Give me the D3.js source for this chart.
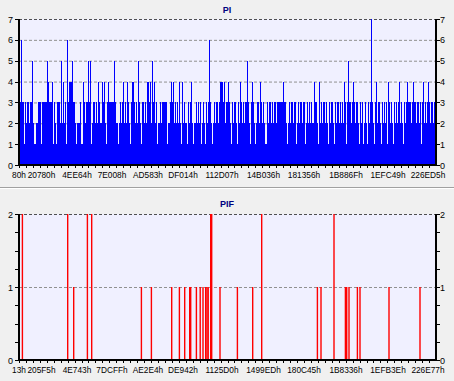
<!DOCTYPE html>
<html><head><meta charset="utf-8">
<script src="https://cdn.jsdelivr.net/npm/d3@7"></script>
<style>
html,body{margin:0;padding:0;background:#f0f0f0;}
svg{display:block;font-family:"Liberation Sans",Arial,sans-serif;}
</style></head>
<body><svg id="c" width="454" height="381"></svg>
<script>
// ---- data ----
const piValues = [
2,3,6,3,3,1,3,2,3,3, 2,3,3,5,2,1,1,2,2,3, 3,3,1,3,3,3,3,3,5,4, 3,3,3,4,1,3,2,1,3,3,
3,2,5,2,4,2,3,1,6,3, 4,4,4,5,3,3,2,1,2,2, 2,3,1,1,4,3,2,3,3,5, 3,5,1,2,3,3,2,3,2,4,
3,2,2,4,3,4,2,1,3,4, 3,3,3,3,3,5,3,2,2,1, 2,3,2,3,4,2,3,2,4,3, 2,1,3,4,4,3,2,3,2,5,
3,2,1,3,3,2,3,2,4,4, 3,4,2,5,3,4,2,3,1,2, 2,3,2,3,3,3,3,3,1,2, 2,3,4,3,4,2,3,2,3,2,
4,2,1,4,2,3,2,2,1,3, 2,3,4,2,1,2,2,3,2,3, 2,3,1,2,3,2,1,3,2,3, 6,3,2,1,2,3,2,3,3,2,
3,4,4,4,3,4,2,3,3,4, 3,2,1,3,2,3,3,2,1,3, 2,4,3,2,3,2,3,3,5,3, 2,1,3,4,3,2,1,2,3,3,
2,4,3,2,3,2,1,1,3,2, 3,3,2,3,2,3,3,2,3,3, 3,3,3,3,4,3,3,2,1,2, 3,2,3,3,2,3,3,1,2,3,
2,3,3,2,3,3,1,2,3,2, 3,2,3,2,2,4,3,3,2,1, 4,2,3,2,3,3,2,3,2,1, 3,2,3,3,2,1,3,2,3,3,
2,3,2,3,2,4,3,1,3,5, 3,3,2,3,4,3,2,3,3,2, 1,3,2,3,1,2,3,2,1,3, 2,3,7,3,2,1,3,4,2,3,
3,2,1,3,2,3,2,3,1,4, 3,2,3,2,1,3,2,3,2,3, 4,2,3,2,1,3,2,3,4,3, 3,3,2,3,4,3,3,2,3,3,
2,3,1,3,4,2,3,2,3,4, 3,2,3,3,2,3,2
];
const piTickLabels = ["80h","20780h","4EE64h","7E008h","AD583h","DF014h","112D07h","14B036h","181356h","1B886Fh","1EFC49h","226ED5h"];
const pifTickLabels = ["13h","205F5h","4E743h","7DCFFh","AE2E4h","DE942h","1125D0h","1499EDh","180C45h","1B8336h","1EFB3Eh","226E77h"];
const tickSample = [0,22.5,58,93,129,164,203,244.5,285,327,369,409];
const pifSample = [2.7,48,54,67.7,72,121.7,131.7,152,159.7,165,170,171,176.7,180.5,183.3,186,187.3,188.5,191,192,200.3,217.7,233,242,297.7,301.3,314.3,325.7,327,329.3,337.7,340.3,369.3,400.3];
const pifValues = [2,2,1,2,2,1,1,1,1,1,1,1,1,1,1,1,1,1,2,2,1,1,1,2,1,1,2,1,1,1,1,1,1,1];
const sampleCount = 417;

const svg = d3.select("#c");
const x = d3.scaleLinear().domain([0, sampleCount]).range([19, 436]);

function panel(opts){
  const y = d3.scaleLinear().domain([0, opts.ymax]).range([opts.y0, opts.y1]);
  const g = svg.append("g");
  g.append("rect").attr("x", x(0)).attr("y", y(opts.ymax)).attr("width", x(sampleCount)-x(0))
    .attr("height", y(0)-y(opts.ymax)).attr("fill", "#f0f0ff");
  g.selectAll(".grid").data(d3.range(1, opts.ymax+1)).join("line")
    .attr("x1", x(0)).attr("x2", x(sampleCount))
    .attr("y1", d=>y(d)+0.5).attr("y2", d=>y(d)+0.5)
    .attr("stroke", d=> d===opts.ymax ? "#505050" : "#909090")
    .attr("stroke-dasharray", "3,2").attr("stroke-width", 1);
  opts.draw(g, y);
  g.append("line").attr("x1", x(0)).attr("x2", x(0)).attr("y1", y(opts.ymax)).attr("y2", y(0)+1)
    .attr("stroke", "#000").attr("stroke-width", 2);
  g.append("line").attr("x1", x(sampleCount)).attr("x2", x(sampleCount)).attr("y1", y(opts.ymax)).attr("y2", y(0)+1)
    .attr("stroke", "#000").attr("stroke-width", 2);
  g.append("line").attr("x1", x(0)-1).attr("x2", x(sampleCount)+1).attr("y1", y(0)).attr("y2", y(0))
    .attr("stroke", "#000").attr("stroke-width", 2);
  const yt = d3.range(0, opts.ymax + 1e-9, opts.minor);
  g.selectAll(".ytl").data(yt).join("line")
    .attr("x1", x(0)-4).attr("x2", x(0)).attr("y1", d=>Math.round(y(d))+0.5).attr("y2", d=>Math.round(y(d))+0.5)
    .attr("stroke", "#000");
  g.selectAll(".ytr").data(yt).join("line")
    .attr("x1", x(sampleCount)).attr("x2", x(sampleCount)+4).attr("y1", d=>Math.round(y(d))+0.5).attr("y2", d=>Math.round(y(d))+0.5)
    .attr("stroke", "#000");
  const yl = d3.range(0, opts.ymax+1);
  g.selectAll(".yll").data(yl).join("text")
    .attr("x", 13).attr("y", d=>y(d)+3.5).attr("text-anchor","end")
    .attr("font-size", 9).attr("fill","#000").text(d=>d);
  g.selectAll(".ylr").data(yl).join("text")
    .attr("x", 440).attr("y", d=>y(d)+3.5).attr("text-anchor","start")
    .attr("font-size", 9).attr("fill","#000").text(d=>d);
  g.selectAll(".xmin").data(d3.range(0, sampleCount, 6.95)).join("line")
    .attr("x1", d=>Math.round(x(d))+0.5).attr("x2", d=>Math.round(x(d))+0.5)
    .attr("y1", y(0)).attr("y2", y(0)+3).attr("stroke", "#000");
  g.selectAll(".xl").data(opts.labels).join("text")
    .attr("x", (d,i)=>x(tickSample[i])).attr("y", opts.y0+13)
    .attr("text-anchor","middle").attr("font-size", 8.3).attr("fill","#000").text(d=>d);
  g.append("text").attr("x", 227).attr("y", opts.titleY).attr("text-anchor","middle")
    .attr("font-size", 9).attr("font-weight","bold").attr("fill","#00007f").text(opts.title);
}

panel({
  ymax: 7, y0: 165, y1: 19, minor: 1, labels: piTickLabels, title: "PI", titleY: 13,
  draw: (g, y) => {
    g.selectAll(".pi").data(piValues).join("rect")
      .attr("x", (d,i)=>x(i)).attr("width", (d,i)=>x(i+1)-x(i))
      .attr("y", d=>y(d)).attr("height", d=>y(0)-y(d))
      .attr("fill", "#0000ff").attr("shape-rendering","crispEdges");
  }
});

svg.append("line").attr("x1",0).attr("x2",454).attr("y1",187.5).attr("y2",187.5).attr("stroke","#a0a0a0");
svg.append("line").attr("x1",0).attr("x2",454).attr("y1",188.5).attr("y2",188.5).attr("stroke","#ffffff");

panel({
  ymax: 2, y0: 360, y1: 214, minor: 0.25, labels: pifTickLabels, title: "PIF", titleY: 207,
  draw: (g, y) => {
    g.selectAll(".pif").data(pifValues).join("rect")
      .attr("x", (d,i)=>x(pifSample[i])).attr("width", 1.4)
      .attr("y", d=>y(d)).attr("height", d=>y(0)-y(d))
      .attr("fill", "#ff0000");
  }
});
</script></body></html>
